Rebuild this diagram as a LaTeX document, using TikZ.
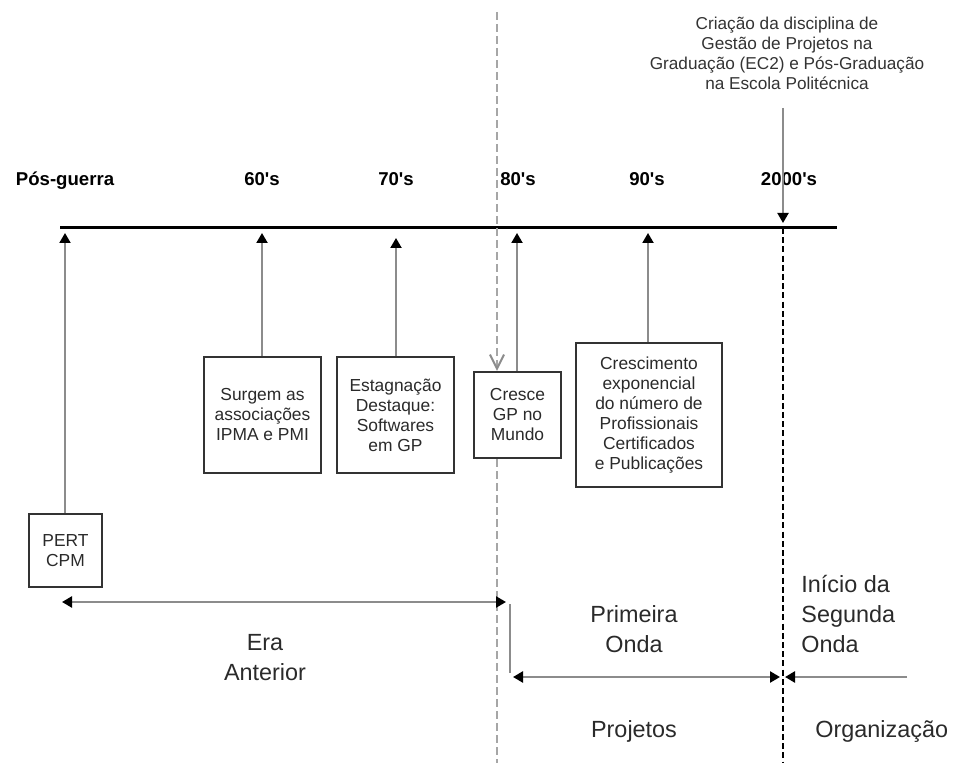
\documentclass[tikz,border=0pt]{standalone}
\usepackage{fontspec}
\setmainfont{Liberation Sans}
\newfontfamily\yrfont[Ligatures=TeXOff]{Liberation Sans}
\usetikzlibrary{arrows.meta}
\definecolor{lgrey}{HTML}{8C8C8C}
\definecolor{dgrey}{HTML}{333333}
\definecolor{tgrey}{HTML}{2A2A2A}
\begin{document}
\begin{tikzpicture}[x=0.5pt,y=-0.5pt,
  box/.style={draw=dgrey,line width=1.2pt,align=center,inner sep=0pt,text=tgrey,
    font=\fontsize{8.7}{10}\selectfont},
  yr/.style={font=\yrfont\bfseries\fontsize{9.3}{11}\selectfont,anchor=base},
  uparrow/.style={draw=lgrey,line width=1pt,-{Triangle[length=5pt,width=5.5pt,color=black]}},
  bigtext/.style={font=\fontsize{11.7}{15}\selectfont,text=tgrey,align=center,inner sep=0pt},
  span/.style={draw=lgrey,line width=1.2pt}
]
\useasboundingbox (0,0) rectangle (962,763);

% timeline
\coordinate (tl) at (60,228);
\coordinate (tr) at (837,228);
\draw[line width=1.5pt,black] (tl) -- (tr);

% era separators
\coordinate (g1) at (497,12);
\coordinate (g2) at (497,763);
\coordinate (d1) at (783,228);
\coordinate (d2) at (783,763);
\draw[black,line width=0.6pt,dash pattern=on 3pt off 1.6pt] (d1) -- (d2);

% year labels
\node[yr] (pg) at (65,186) {Pós-guerra};
\node[yr] (y60) at (262,186) {60's};
\node[yr] (y70) at (396,186) {70's};
\node[yr] (y80) at (518,186) {80's};
\node[yr] (y90) at (647,186) {90's};
\node[yr] (y00) at (789,186) {2000's};

% top note (base = last line)
\node[align=center,inner sep=0pt,text=dgrey,font=\fontsize{8.6}{10}\selectfont,anchor=base] (note) at (787,90)
  {Criação da disciplina de\\Gestão de Projetos na\\Graduação (EC2) e Pós-Graduação\\na Escola Politécnica};
\coordinate (nb) at (783,108);
\coordinate (nt) at (783,223);
\draw[uparrow] (nb) -- (nt);

% boxes
\node[box,minimum width=36.5pt,minimum height=36.5pt] (pert) at (65.5,550.5) {PERT\\CPM};
\node[box,minimum width=58.5pt,minimum height=58pt] (surgem) at (262.5,415) {Surgem as\\associações\\IPMA e PMI};
\node[box,minimum width=58.5pt,minimum height=58pt] (estag) at (395.5,415) {Estagnação\\Destaque:\\Softwares\\em GP};
\node[box,minimum width=43.5pt,minimum height=43pt] (cresce) at (517.5,415) {Cresce\\GP no\\Mundo};
\node[box,minimum width=73pt,minimum height=72pt] (cresc) at (649,415) {Crescimento\\exponencial\\do número de\\Profissionais\\Certificados\\e Publicações};

% arrows to timeline
\coordinate (a1) at (65,233);
\coordinate (a2) at (262,233);
\coordinate (a3) at (396,238);
\coordinate (a4) at (517,233);
\coordinate (a5) at (648,233);
\draw[uparrow] (pert.north -| a1) -- (a1);
\draw[uparrow] (surgem.north -| a2) -- (a2);
\draw[uparrow] (estag.north -| a3) -- (a3);
\draw[uparrow] (cresce.north -| a4) -- (a4);
\draw[uparrow] (cresc.north -| a5) -- (a5);

% grey dashed separator with open arrow into "Cresce"
\draw[draw=black!35,line width=1pt,dash pattern=on 4pt off 2pt,
      -{Straight Barb[length=7pt,width=7pt,color=black!45]}] (g1) -- (g1 |- cresce.north);
\draw[draw=black!35,line width=1pt,dash pattern=on 4pt off 2pt] (g1 |- cresce.south) -- (g2);

% bottom spans
\coordinate (e1) at (62,602);
\coordinate (e2) at (506,602);
\draw[span,{Triangle[length=5pt,width=5.5pt,color=black]}-{Triangle[length=5pt,width=5.5pt,color=black]}] (e1) -- (e2);
\coordinate (v1) at (510,604);
\coordinate (v2) at (510,673);
\draw[span] (v1) -- (v2);
\coordinate (p1) at (513,677);
\coordinate (p2) at (780,677);
\draw[span,{Triangle[length=5pt,width=5.5pt,color=black]}-{Triangle[length=5pt,width=5.5pt,color=black]}] (p1) -- (p2);
\coordinate (s1) at (907,677);
\coordinate (s2) at (785,677);
\draw[span,-{Triangle[length=5pt,width=5.5pt,color=black]}] (s1) -- (s2);

% era labels (base = last line)
\node[bigtext,anchor=base] (era) at (265,680) {Era\\Anterior};
\node[bigtext,anchor=base] (prim) at (634,652) {Primeira\\Onda};
\node[bigtext,anchor=base west,align=left] (seg) at (801,652) {Início da\\Segunda\\Onda};
\node[bigtext,anchor=base] (proj) at (634,737) {Projetos};
\node[bigtext,anchor=base west] (org) at (815,737) {Organização};
\end{tikzpicture}
\end{document}
